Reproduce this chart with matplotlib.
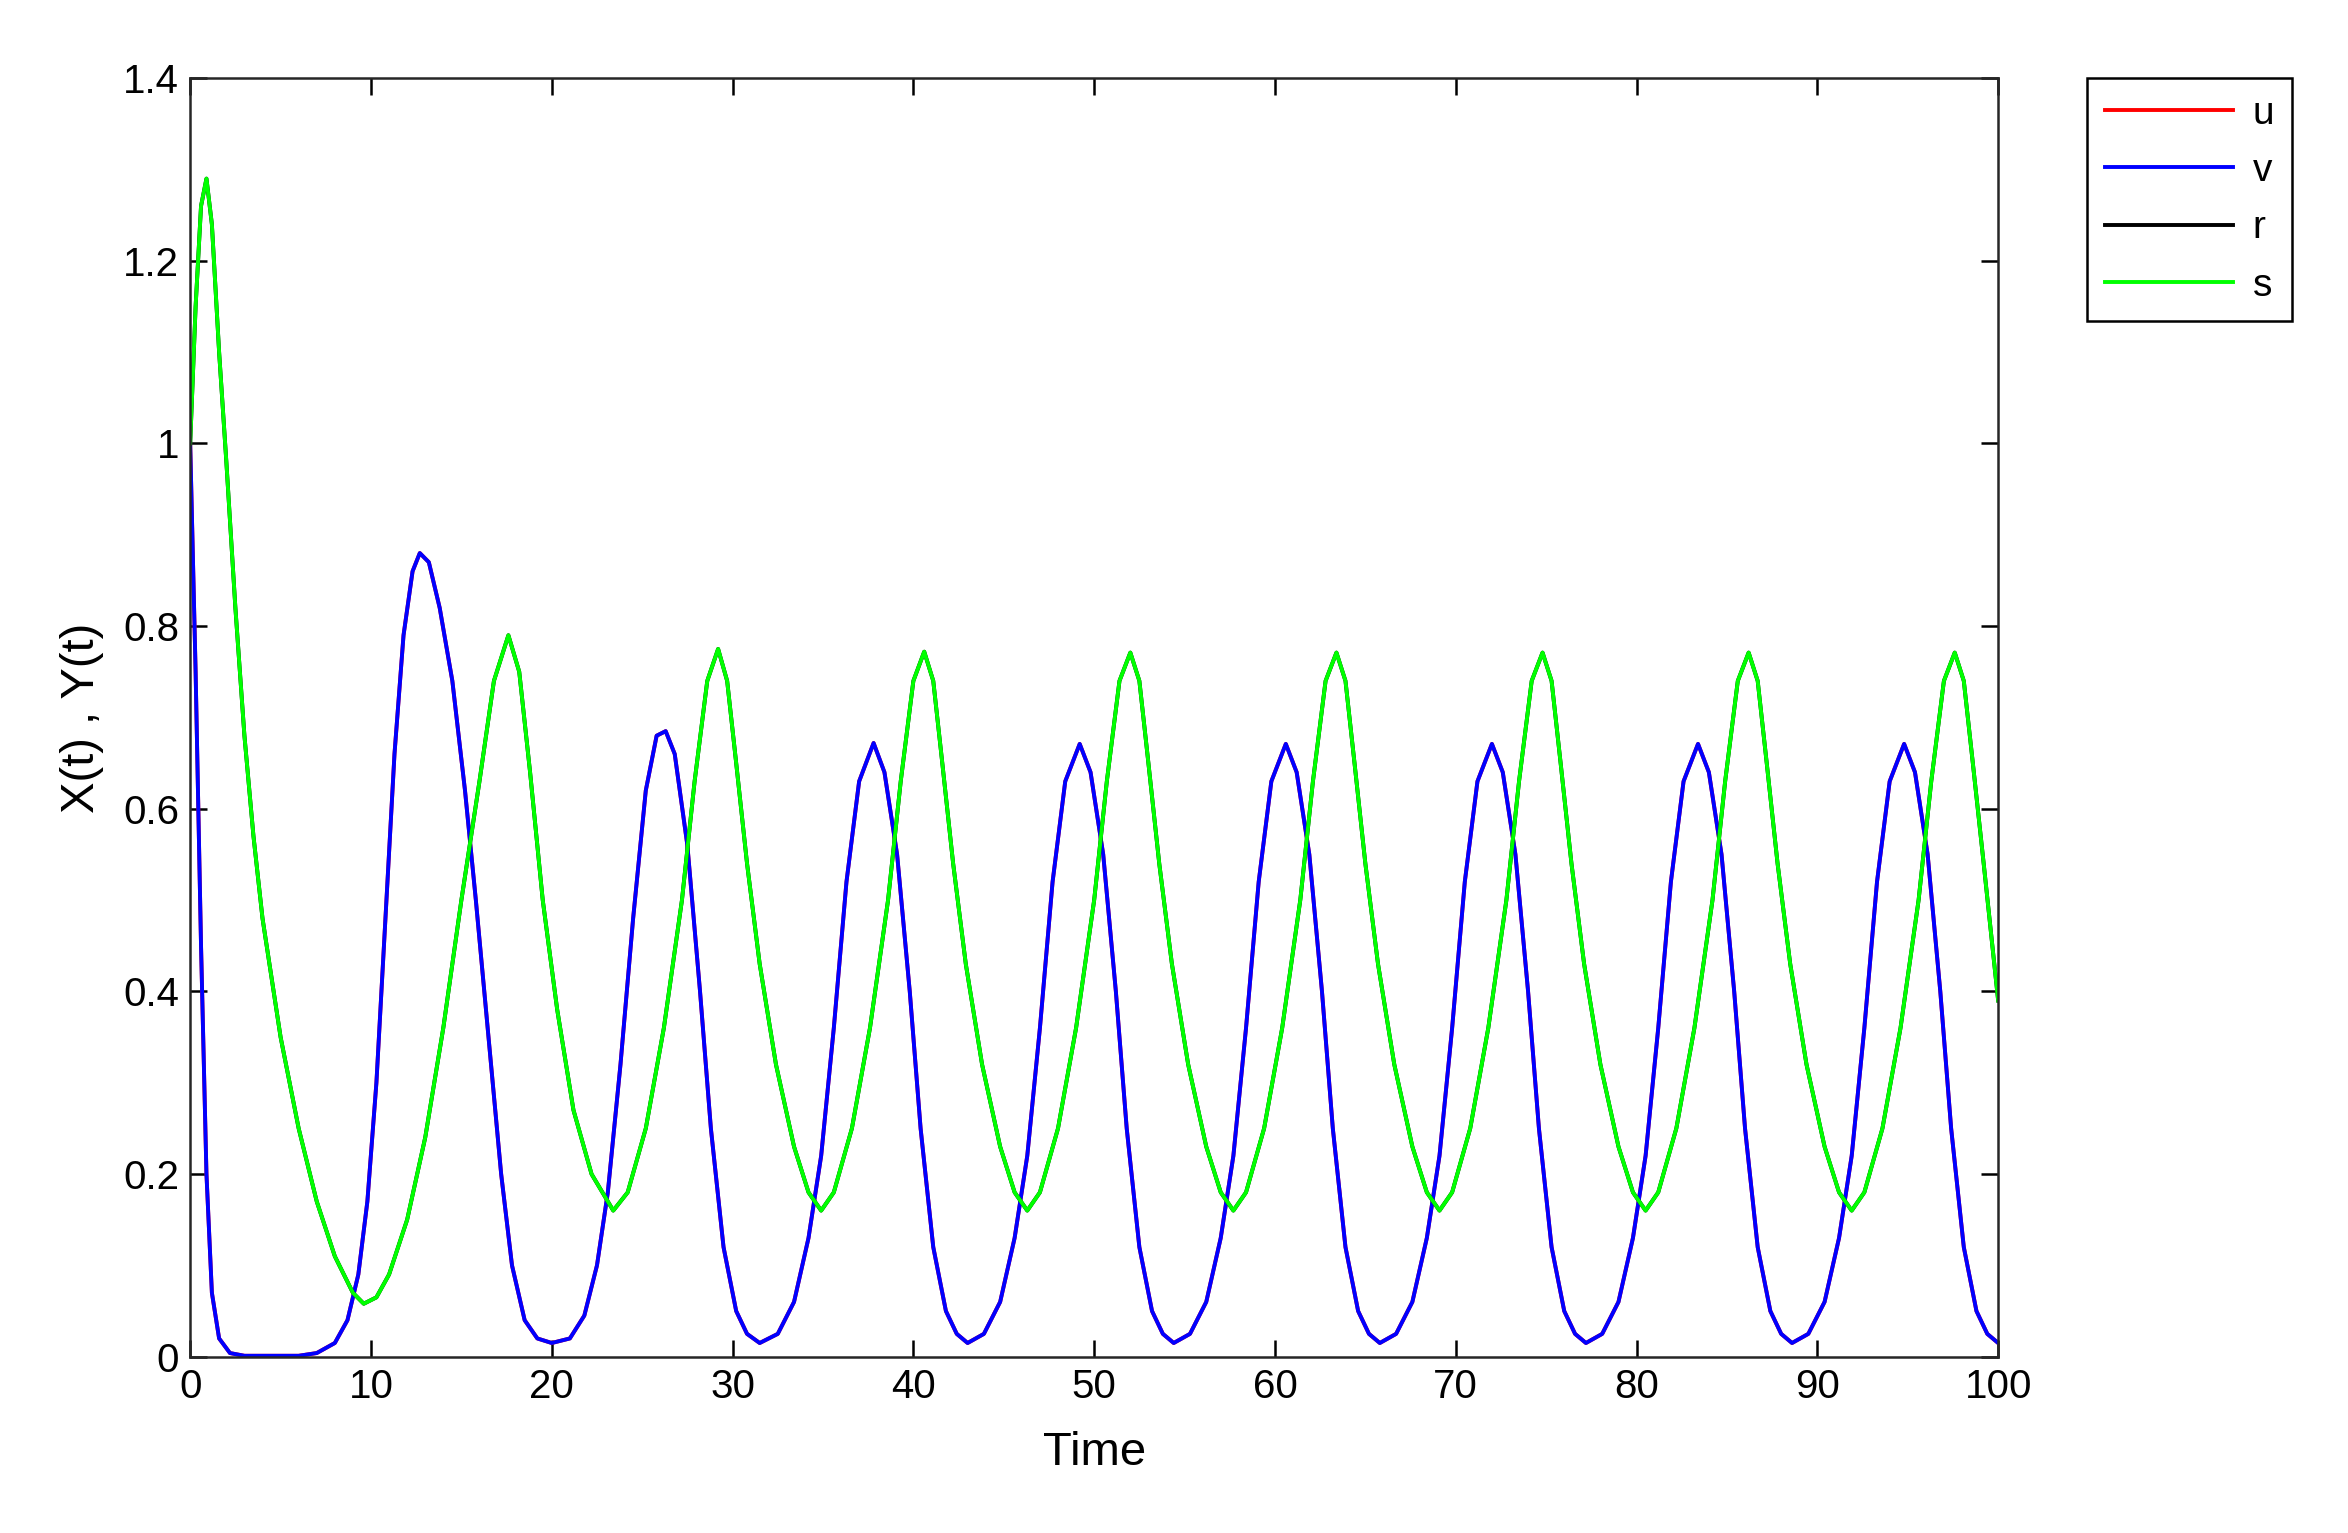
import matplotlib
matplotlib.use("Agg")
import matplotlib.pyplot as plt

plt.rcParams['font.family'] = ['Liberation Sans', 'DejaVu Sans']

# v(t) (u sits under it, same values)
v_t = [0, 0.3, 0.6, 0.9, 1.2, 1.6, 2.2, 3, 6, 7, 8, 8.7, 9.3, 9.8, 10.3, 10.8, 11.3, 11.8, 12.3, 12.7,
       13.2, 13.8, 14.5, 15.2, 15.8, 16.5, 17.2, 17.8, 18.5, 19.2, 20, 21, 21.8, 22.5, 23.1, 23.8, 24.5,
       25.2, 25.8, 26.3, 26.8, 27.5, 28.2, 28.8, 29.5, 30.2, 30.8, 31.5,
       32.5, 33.4, 34.2, 34.9, 35.6, 36.3, 37.0, 37.8, 38.4, 39.1, 39.8, 40.4, 41.1, 41.8, 42.4, 43.0,
       43.9, 44.8, 45.6, 46.3, 47.0, 47.7, 48.4, 49.2, 49.8, 50.5, 51.2, 51.8, 52.5, 53.2, 53.8, 54.4,
       55.3, 56.2, 57.0, 57.7, 58.4, 59.1, 59.8, 60.6, 61.2, 61.9, 62.6, 63.2, 63.9, 64.6, 65.2, 65.8,
       66.7, 67.6, 68.4, 69.1, 69.8, 70.5, 71.2, 72.0, 72.6, 73.3, 74.0, 74.6, 75.3, 76.0, 76.6, 77.2,
       78.1, 79.0, 79.8, 80.5, 81.2, 81.9, 82.6, 83.4, 84.0, 84.7, 85.4, 86.0, 86.7, 87.4, 88.0, 88.6,
       89.5, 90.4, 91.2, 91.9, 92.6, 93.3, 94.0, 94.8, 95.4, 96.1, 96.8, 97.4, 98.1, 98.8, 99.4, 100.0]
v_y = [1.0, 0.75, 0.45, 0.2, 0.07, 0.02, 0.004, 0.001, 0.001, 0.004, 0.015, 0.04, 0.09, 0.17, 0.3, 0.48,
       0.66, 0.79, 0.86, 0.88, 0.87, 0.82, 0.74, 0.62, 0.5, 0.35, 0.2, 0.1, 0.04, 0.02, 0.015, 0.02, 0.045,
       0.1, 0.18, 0.32, 0.48, 0.62, 0.68, 0.685, 0.66, 0.56, 0.4, 0.25, 0.12, 0.05, 0.025, 0.015,
       0.025, 0.06, 0.13, 0.22, 0.36, 0.52, 0.63, 0.672, 0.64, 0.55, 0.4, 0.25, 0.12, 0.05, 0.025, 0.015,
       0.025, 0.06, 0.13, 0.22, 0.36, 0.52, 0.63, 0.671, 0.64, 0.55, 0.4, 0.25, 0.12, 0.05, 0.025, 0.015,
       0.025, 0.06, 0.13, 0.22, 0.36, 0.52, 0.63, 0.671, 0.64, 0.55, 0.4, 0.25, 0.12, 0.05, 0.025, 0.015,
       0.025, 0.06, 0.13, 0.22, 0.36, 0.52, 0.63, 0.671, 0.64, 0.55, 0.4, 0.25, 0.12, 0.05, 0.025, 0.015,
       0.025, 0.06, 0.13, 0.22, 0.36, 0.52, 0.63, 0.671, 0.64, 0.55, 0.4, 0.25, 0.12, 0.05, 0.025, 0.015,
       0.025, 0.06, 0.13, 0.22, 0.36, 0.52, 0.63, 0.671, 0.64, 0.55, 0.4, 0.25, 0.12, 0.05, 0.025, 0.015]

# s(t) (r sits under it, same values)
s_t = [0, 0.3, 0.6, 0.9, 1.2, 1.6, 2.0, 2.5, 3, 3.5, 4, 5, 6, 7, 8, 9, 9.6, 10.3, 11, 12, 13, 14, 15, 16,
       16.8, 17.6, 18.2, 18.8, 19.5, 20.3, 21.2, 22.2, 23.4,
       24.2, 25.2, 26.2, 27.2, 27.9, 28.6, 29.2, 29.7, 30.2, 30.8, 31.5, 32.4, 33.4, 34.2, 34.9,
       35.6, 36.6, 37.6, 38.6, 39.3, 40.0, 40.6, 41.1, 41.6, 42.2, 42.9, 43.8, 44.8, 45.6, 46.3,
       47.0, 48.0, 49.0, 50.0, 50.7, 51.4, 52.0, 52.5, 53.0, 53.6, 54.3, 55.2, 56.2, 57.0, 57.7,
       58.4, 59.4, 60.4, 61.4, 62.1, 62.8, 63.4, 63.9, 64.4, 65.0, 65.7, 66.6, 67.6, 68.4, 69.1,
       69.8, 70.8, 71.8, 72.8, 73.5, 74.2, 74.8, 75.3, 75.8, 76.4, 77.1, 78.0, 79.0, 79.8, 80.5,
       81.2, 82.2, 83.2, 84.2, 84.9, 85.6, 86.2, 86.7, 87.2, 87.8, 88.5, 89.4, 90.4, 91.2, 91.9,
       92.6, 93.6, 94.6, 95.6, 96.3, 97.0, 97.6, 98.1, 98.6, 99.2, 100.0]
s_y = [1.0, 1.15, 1.26, 1.29, 1.24, 1.1, 0.98, 0.82, 0.68, 0.57, 0.48, 0.35, 0.25, 0.17, 0.11, 0.07, 0.058,
       0.065, 0.09, 0.15, 0.24, 0.36, 0.5, 0.63, 0.74, 0.79, 0.75, 0.64, 0.5, 0.38, 0.27, 0.2, 0.16,
       0.18, 0.25, 0.36, 0.5, 0.63, 0.74, 0.775, 0.74, 0.65, 0.54, 0.43, 0.32, 0.23, 0.18, 0.16,
       0.18, 0.25, 0.36, 0.5, 0.63, 0.74, 0.772, 0.74, 0.65, 0.54, 0.43, 0.32, 0.23, 0.18, 0.16,
       0.18, 0.25, 0.36, 0.5, 0.63, 0.74, 0.771, 0.74, 0.65, 0.54, 0.43, 0.32, 0.23, 0.18, 0.16,
       0.18, 0.25, 0.36, 0.5, 0.63, 0.74, 0.771, 0.74, 0.65, 0.54, 0.43, 0.32, 0.23, 0.18, 0.16,
       0.18, 0.25, 0.36, 0.5, 0.63, 0.74, 0.771, 0.74, 0.65, 0.54, 0.43, 0.32, 0.23, 0.18, 0.16,
       0.18, 0.25, 0.36, 0.5, 0.63, 0.74, 0.771, 0.74, 0.65, 0.54, 0.43, 0.32, 0.23, 0.18, 0.16,
       0.18, 0.25, 0.36, 0.5, 0.63, 0.74, 0.771, 0.74, 0.65, 0.54, 0.39]

fig = plt.figure(figsize=(23.48, 15.33), dpi=100)
ax = fig.add_axes([0.081, 0.115, 0.770, 0.834])

lw = 2.8
ax.plot(v_t, v_y, color='#ff0000', lw=lw, label='u')
ax.plot(v_t, v_y, color='#0000ff', lw=lw, label='v')
ax.plot(s_t, s_y, color='#000000', lw=lw, label='r')
ax.plot(s_t, s_y, color='#00ff00', lw=lw, label='s')

ax.set_xlim(0, 100)
ax.set_ylim(0, 1.4)
ax.set_xticks(range(0, 101, 10))
ax.set_yticks([0, 0.2, 0.4, 0.6, 0.8, 1, 1.2, 1.4])
ax.set_yticklabels(['0', '0.2', '0.4', '0.6', '0.8', '1', '1.2', '1.4'])
ax.tick_params(direction='in', top=True, right=True, length=12, width=1.8, labelsize=29, pad=8)
for sp in ax.spines.values():
    sp.set_linewidth(1.8)
    sp.set_color('#262626')
ax.set_xlabel('Time', fontsize=34, labelpad=18)
ax.set_ylabel('X(t) , Y(t)', fontsize=34, labelpad=14)

leg = fig.legend(loc='upper left', bbox_to_anchor=(0.889, 0.949), borderaxespad=0, fontsize=28,
                 fancybox=False, edgecolor='black', handlelength=3.3,
                 borderpad=0.45, labelspacing=0.55, handletextpad=0.5, framealpha=1)
leg.get_frame().set_linewidth(1.8)

fig.savefig('out.png', dpi=100)
